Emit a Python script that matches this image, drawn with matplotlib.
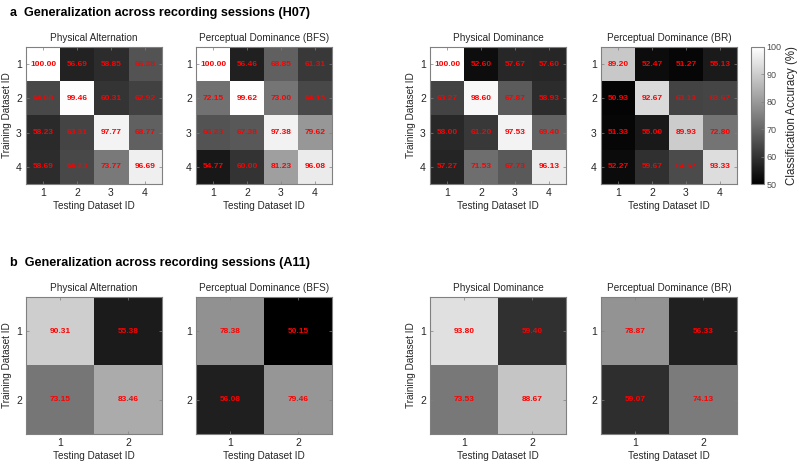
import numpy as np
import matplotlib
matplotlib.use("Agg")
import matplotlib.pyplot as plt

plt.rcParams['font.family'] = ['Liberation Sans', 'DejaVu Sans']

titles = ["Physical Alternation", "Perceptual Dominance (BFS)",
          "Physical Dominance", "Perceptual Dominance (BR)"]

h07_pa = [[100.00, 56.69, 58.85, 66.38],
          [64.08, 99.46, 60.31, 62.92],
          [58.23, 63.31, 97.77, 68.77],
          [58.69, 64.23, 73.77, 96.69]]
h07_bfs = [[100.00, 56.46, 68.85, 61.31],
           [72.15, 99.62, 73.00, 64.15],
           [66.23, 67.38, 97.38, 79.62],
           [54.77, 60.00, 81.23, 96.08]]
h07_pd = [[100.00, 52.60, 57.67, 57.60],
          [63.27, 98.60, 67.87, 58.93],
          [58.00, 61.20, 97.53, 69.40],
          [57.27, 71.53, 67.73, 96.13]]
h07_br = [[89.20, 52.47, 51.27, 55.13],
          [50.93, 92.67, 63.13, 63.67],
          [51.33, 55.00, 89.93, 72.80],
          [52.27, 59.67, 64.67, 93.33]]

a11_pa = [[90.31, 55.38], [73.15, 83.46]]
a11_bfs = [[78.38, 50.15], [56.08, 79.46]]
a11_pd = [[93.80, 59.40], [73.53, 88.67]]
a11_br = [[78.87, 56.33], [59.07, 74.13]]

cbar_ticks = [50, 60, 70, 80, 90, 100]
vmin, vmax = 50, 100

W, H = 797, 462
fig = plt.figure(figsize=(W / 100, H / 100), dpi=100)

def rect(x0, y0, x1, y1):
    return [x0 / W, 1 - y1 / H, (x1 - x0) / W, (y1 - y0) / H]

lefts = [26, 196, 430, 601]
rows = [(47, 184), (297, 434)]
data = [[h07_pa, h07_bfs, h07_pd, h07_br], [a11_pa, a11_bfs, a11_pd, a11_br]]

tick_col = '#262626'
spine_col = '#808080'
fs = 7.2
im = None
for r, (top, bot) in enumerate(rows):
    for c, x0 in enumerate(lefts):
        m = np.array(data[r][c])
        n = m.shape[0]
        ax = fig.add_axes(rect(x0, top, x0 + 136, bot))
        im = ax.imshow(m, cmap='gray', vmin=vmin, vmax=vmax, aspect='auto',
                       extent=[0.5, n + 0.5, n + 0.5, 0.5], interpolation='nearest')
        for i in range(n):
            for j in range(n):
                ax.text(j + 1, i + 1, f"{m[i, j]:.2f}", color='red', fontsize=6,
                        fontweight='bold', ha='center', va='center')
        ax.set_xticks(range(1, n + 1))
        ax.set_yticks(range(1, n + 1))
        ax.tick_params(direction='in', length=2, width=0.5, colors=spine_col,
                       labelcolor=tick_col, labelsize=7.5, top=True, right=True, pad=3)
        for s in ax.spines.values():
            s.set_color(spine_col)
            s.set_linewidth(0.8)
        ax.set_title(titles[c], fontsize=fs, color=tick_col, pad=4)
        ax.set_xlabel("Testing Dataset ID", fontsize=fs, color=tick_col, labelpad=2)
        if c in (0, 2):
            ax.set_ylabel("Training Dataset ID", fontsize=fs, color=tick_col, labelpad=3)

cax = fig.add_axes(rect(751, 47, 764, 184))
cb = fig.colorbar(im, cax=cax, ticks=cbar_ticks)
cb.outline.set_edgecolor(spine_col)
cb.outline.set_linewidth(0.8)
cax.tick_params(direction='in', length=2, width=0.5, colors=spine_col,
                labelcolor='#4d4d4d', labelsize=6.5, pad=2)
cb.set_label("Classification Accuracy (%)", fontsize=8.3, color=tick_col, labelpad=3)

fig.text(10 / W, 1 - 13 / H, "a  Generalization across recording sessions (H07)",
         fontsize=9.1, fontweight='bold', va='center', ha='left')
fig.text(10 / W, 1 - 263 / H, "b  Generalization across recording sessions (A11)",
         fontsize=9.1, fontweight='bold', va='center', ha='left')

fig.savefig("out.png", dpi=100)
